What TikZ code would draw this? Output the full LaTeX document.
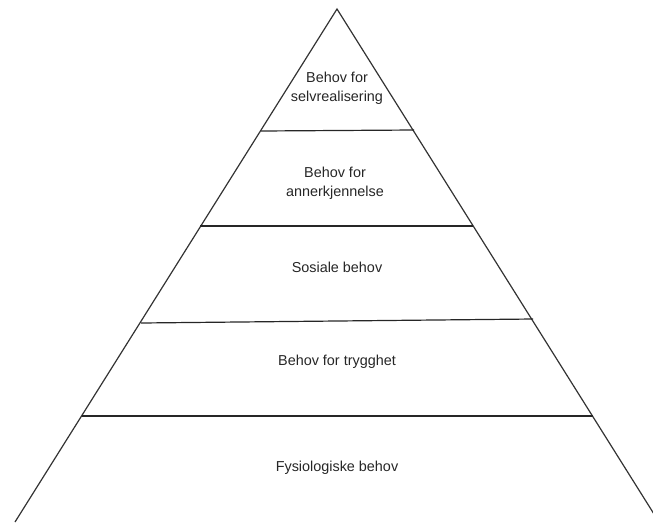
\documentclass[tikz,border=0pt]{standalone}
\usepackage{fontspec}
\setmainfont{Liberation Sans}
\usetikzlibrary{positioning}
\tikzset{
  edge/.style={draw=black!80, line width=0.9pt},
  tier/.style={draw=black!85, line width=0.9pt},
  lvl/.style={font=\fontsize{10.8}{14.3}\selectfont, text=black!85, align=center, inner sep=1pt}
}
\begin{document}
\begin{tikzpicture}[x=0.75pt,y=-0.75pt]
  \useasboundingbox (0,0) rectangle (653,522);
  \clip (0,0) rectangle (653,522);
  % outline of the pyramid
  \coordinate (apex) at (337,9);
  \coordinate (bl) at (15,522);
  \coordinate (br) at (659,522);
  \draw[edge] (bl) -- (apex) -- (br);
  % dividing lines between the tiers
  \foreach \n/\xa/\ya/\xb/\yb in {1/261/131/414/130, 2/200/226/473/226, 3/141/323/533/319, 4/82/416/593/416}{
    \coordinate (l\n) at (\xa,\ya);
    \coordinate (r\n) at (\xb,\yb);
    \draw[tier] (l\n) -- (r\n);
  }
  % tier labels
  \node[lvl] (selv) at (337,88) {Behov for\\selvrealisering};
  \node[lvl] (anner) at (335,183) {Behov for\\annerkjennelse};
  \node[lvl] (sosial) at (337,267) {Sosiale behov};
  \node[lvl] (trygg) at (337,362) {Behov for trygghet};
  \node[lvl] (fysio) at (337,468) {Fysiologiske behov};
\end{tikzpicture}
\end{document}
